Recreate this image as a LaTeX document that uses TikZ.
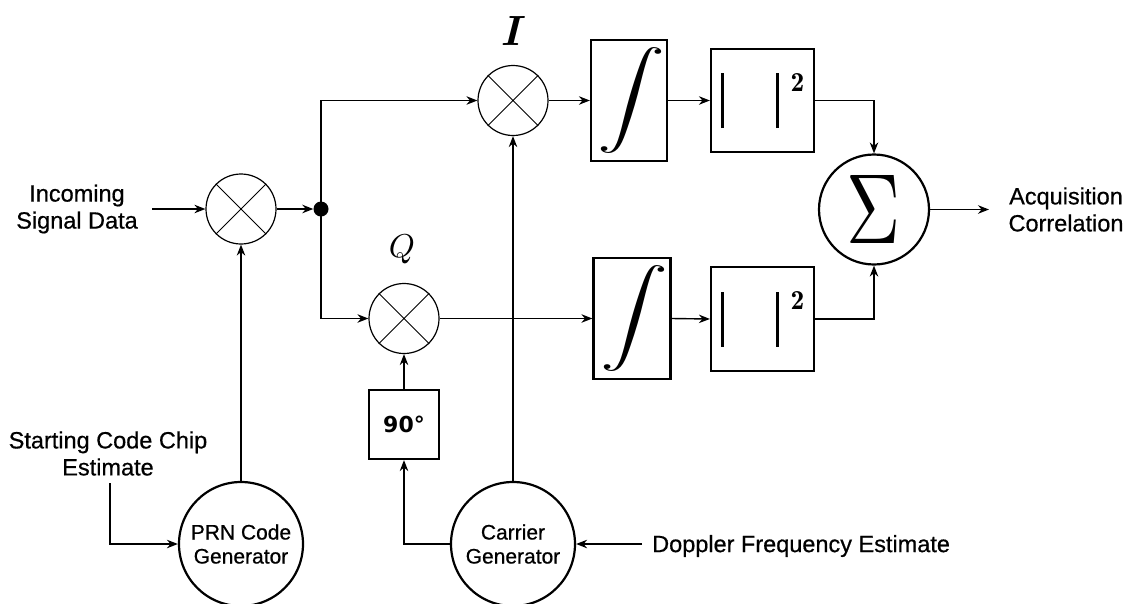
\documentclass[tikz,border=0pt]{standalone}
\usepackage[no-math]{fontspec}
\usepackage{graphicx}
\usepackage{bm}
\setmainfont{Liberation Sans}[FakeBold=0.5]
\newfontfamily\labfont{Liberation Sans}[FakeBold=0.6]
\newfontfamily\dejavu{DejaVu Sans}
\usetikzlibrary{arrows.meta}
\newcommand{\abssq}{\rule[-27.5pt]{3pt}{55pt}\hspace{52pt}\rule[-27.5pt]{3pt}{55pt}\hspace{12pt}\raisebox{9.5pt}{\resizebox*{!}{18pt}{\fontfamily{lmr}\bfseries 2}}\hspace{4.5pt}}
\newcommand{\bigint}{\makebox[0pt][l]{\hspace*{-32pt}\resizebox*{68pt}{106pt}{$\displaystyle\int$}}}
\begin{document}
\begin{tikzpicture}[x=1pt,y=-1pt,
  conn/.style={line width=1.4pt},
  arr/.style={conn,-{Stealth[length=11pt,width=8.5pt]}},
  mixer/.style={circle,draw,line width=1.2pt,minimum size=70pt,inner sep=0pt},
  blk/.style={draw,line width=2.2pt,inner sep=0pt},
  bigcirc/.style={circle,draw,line width=2.2pt,inner sep=0pt,minimum size=124pt,font=\labfont\fontsize{21}{24}\selectfont,align=center},
  lab/.style={font=\labfont\fontsize{23.5}{27}\selectfont,align=center,inner sep=0pt}]
\useasboundingbox (0,0) rectangle (1132,603);

% nodes
\node[mixer] (m1) at (241,209) {};
\node[mixer] (mI) at (513,100.5) {};
\node[mixer] (mQ) at (404,318.5) {};
\foreach \n in {m1,mI,mQ} \draw[line width=1pt] (\n.45) -- (\n.225) (\n.135) -- (\n.315);
\node[circle,fill,minimum size=15pt,inner sep=0pt] (dot) at (321,209) {};

\node[blk,minimum width=76pt,minimum height=121pt] (int1) at (629,100.5) {\bigint};
\node[blk,minimum width=77pt,minimum height=121pt] (int2) at (632,318.5) {\bigint};
\node[blk,minimum width=103pt,minimum height=103pt] (abs1) at (762.5,100.5) {\abssq};
\node[blk,minimum width=103pt,minimum height=104pt] (abs2) at (762.5,319) {\abssq};
\node[circle,draw,line width=2.2pt,minimum size=110pt,inner sep=0pt] (sig) at (874,209.5) {\resizebox*{54pt}{68pt}{$\Sigma$}};

\node[blk,minimum width=70pt,minimum height=69pt,font=\dejavu\bfseries\fontsize{22}{22}\selectfont] (ninety) at (404,424.5) {90°};
\node[bigcirc] (prn) at (241,544) {PRN Code\\Generator};
\node[bigcirc] (car) at (513,544) {Carrier\\Generator};

\node (lI) at (513.5,31) {\resizebox*{!}{29pt}{$\bm{I}$}};
\node (lQ) at (402,249) {\resizebox*{!}{29pt}{$Q$}};

\node[lab] (inc) at (77,209) {Incoming\\Signal Data};
\node[lab] (acq) at (1066,209.5) {Acquisition\\Correlation};
\node[lab] (start) at (108,453.5) {Starting Code Chip\\Estimate};
\node[lab,anchor=west] (dop) at (652,546) {Doppler Frequency Estimate};

\coordinate (iA) at (152,209);
\coordinate (oA) at (989,209.5);
\coordinate (sA) at (110,483);
\coordinate (dA) at (642,544);

% connectors
\draw[arr] (iA) -- (m1.west);
\draw[arr] (m1.east) -- (dot.west);
\draw[arr] (dot.center) |- (mI.west);
\draw[arr] (dot.center) |- (mQ.west);
\draw[arr] (mI.east) -- (int1.west);
\draw[arr] (int1.east) -- (abs1.west);
\draw[arr] (abs1.east) -| (sig.north);
\draw[arr] (mQ.east) -- (int2.west);
\draw[arr] (int2.east) -- (abs2.west);
\draw[arr] (abs2.east) -| (sig.south);
\draw[arr] (sig.east) -- (oA);
\draw[arr] (prn.north) -- (m1.south);
\draw[arr] (car.north) -- (mI.south);
\draw[arr] (car.west) -| (ninety.south);
\draw[arr] (ninety.north) -- (mQ.south);
\draw[arr] (dA) -- (car.east);
\draw[arr] (sA) |- (prn.west);
\end{tikzpicture}
\end{document}
